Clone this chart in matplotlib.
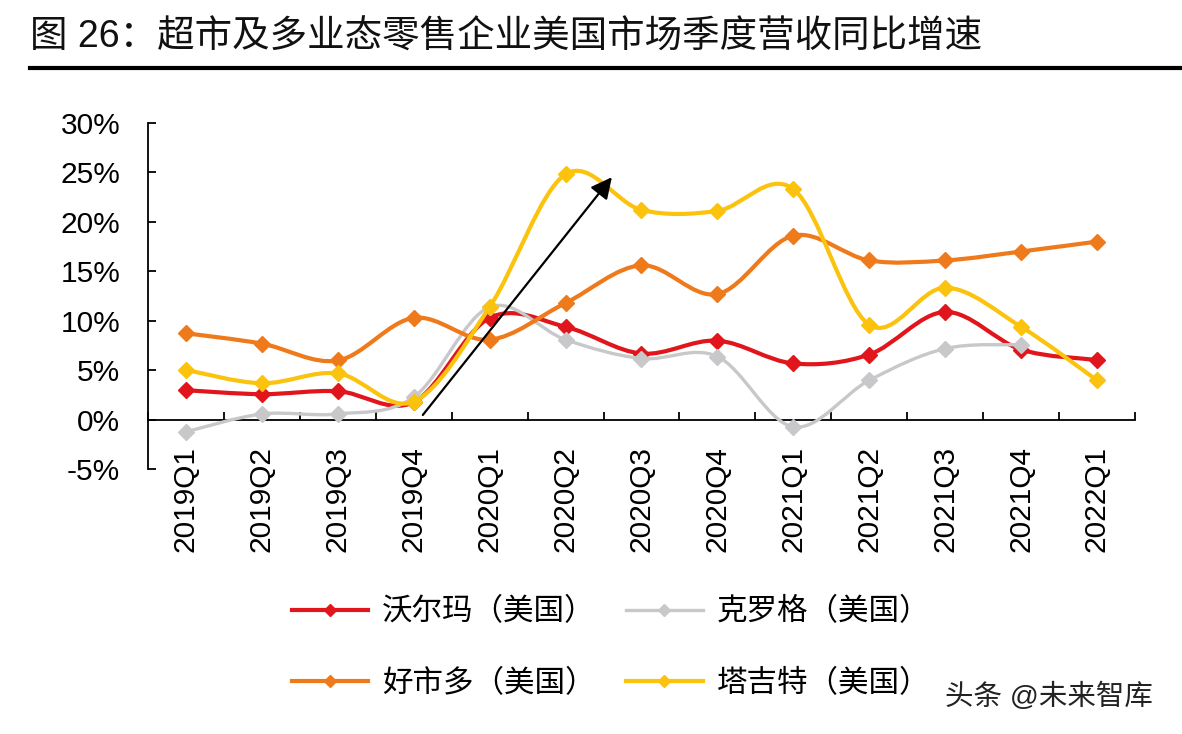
import numpy as np
import matplotlib
matplotlib.use('Agg')
import matplotlib.pyplot as plt
from matplotlib.path import Path
from matplotlib.patches import PathPatch
from matplotlib.lines import Line2D

plt.rcParams['font.family'] = ['Liberation Sans', 'Noto Sans CJK SC', 'DejaVu Sans']

quarters = ['2019Q1', '2019Q2', '2019Q3', '2019Q4', '2020Q1', '2020Q2', '2020Q3',
            '2020Q4', '2021Q1', '2021Q2', '2021Q3', '2021Q4', '2022Q1']

# 同比增速 (%)
walmart = [3.0, 2.6, 2.9, 1.8, 10.3, 9.4, 6.7, 8.0, 5.7, 6.6, 10.9, 7.1, 6.05]
kroger = [-1.2, 0.6, 0.6, 2.3, 11.4, 8.1, 6.2, 6.4, -0.7, 4.0, 7.2, 7.6]
costco = [8.75, 7.7, 6.0, 10.3, 8.1, 11.8, 15.6, 12.7, 18.6, 16.1, 16.1, 17.0, 18.0]
target = [5.05, 3.7, 4.7, 1.85, 11.4, 24.8, 21.2, 21.1, 23.3, 9.6, 13.35, 9.4, 4.0]

names = ['沃尔玛（美国）', '克罗格（美国）', '好市多（美国）', '塔吉特（美国）']
colors = ['#E0161C', '#C8C8CA', '#EF7A1C', '#FCC30E']
widths = [3.0, 2.4, 3.0, 3.0]

# 箭头 (类别序号, %)
arrow_start = (3.12, 0.5)
arrow_end = (5.61, 24.5)


def smooth_path(xs, ys, t=1 / 6.0):
    pts = np.column_stack([xs, ys]).astype(float)
    n = len(pts)
    verts = [pts[0]]
    codes = [Path.MOVETO]
    for i in range(n - 1):
        p0 = pts[i - 1] if i > 0 else pts[i]
        p1 = pts[i]
        p2 = pts[i + 1]
        p3 = pts[i + 2] if i + 2 < n else pts[i + 1]
        c1 = p1 + (p2 - p0) * t
        c2 = p2 - (p3 - p1) * t
        verts += [c1, c2, p2]
        codes += [Path.CURVE4] * 3
    return Path(verts, codes)


fig = plt.figure(figsize=(11.82, 7.34), dpi=100)
ax = fig.add_axes([0.1252, 0.3604, 0.835, 0.4724])

series = [walmart, kroger, costco, target]
handles = []
for k, vals in enumerate(series):
    x = np.arange(len(vals))
    patch = PathPatch(smooth_path(x, vals), facecolor='none', edgecolor=colors[k],
                      lw=widths[k], zorder=3 + k, capstyle='round', joinstyle='round')
    ax.add_patch(patch)
    ax.plot(x, vals, linestyle='none', marker='D', markersize=8,
            color=colors[k], zorder=3 + k)
    handles.append(Line2D([], [], color=colors[k], lw=widths[k], marker='D', markersize=6))

ax.annotate('', xy=arrow_end, xytext=arrow_start,
            arrowprops=dict(arrowstyle='-|>', color='black', lw=1.6,
                            mutation_scale=32, shrinkA=0, shrinkB=0), zorder=10)

ax.set_xlim(-0.5, 12.5)
ax.set_ylim(-5, 30)
ax.set_yticks(np.arange(-5, 31, 5))
ax.set_yticklabels([f'{v}%' for v in range(-5, 31, 5)], fontsize=21.5)

ax.spines['top'].set_visible(False)
ax.spines['right'].set_visible(False)
ax.spines['bottom'].set_position(('data', 0))
for s in ['left', 'bottom']:
    ax.spines[s].set_linewidth(1.3)

ax.set_xticks(np.arange(len(quarters)))
ax.set_xticklabels(quarters, rotation=90, fontsize=21.5)
ax.set_xticks(np.arange(-0.5, 12.6, 1), minor=True)
ax.tick_params(axis='x', which='major', length=0, pad=19)
ax.tick_params(axis='x', which='minor', direction='in', length=6, width=1.3)
ax.tick_params(axis='y', direction='in', length=6, width=1.3, pad=20)

fig.text(30 / 1182, 1 - 38 / 734, '图 26：超市及多业态零售企业美国市场季度营收同比增速',
         fontsize=27, va='center', ha='left', color='#111111')
fig.add_artist(Line2D([30 / 1182, 1.0], [1 - 68 / 734, 1 - 68 / 734],
                      color='black', lw=3))

# 图例按行排列：沃尔玛、克罗格 / 好市多、塔吉特
order = [0, 2, 1, 3]
fig.legend([handles[i] for i in order], [names[i] for i in order], loc='center',
           bbox_to_anchor=(611 / 1182, 1 - 648 / 734),
           ncol=2, frameon=False, fontsize=22, handlelength=2.5, handletextpad=0.45,
           columnspacing=1.0, labelspacing=1.35)

fig.text(945 / 1182, 1 - 697 / 734, '头条 @未来智库', fontsize=20.5,
         va='center', ha='left', color='#222222')

fig.savefig('out.png', dpi=100)
